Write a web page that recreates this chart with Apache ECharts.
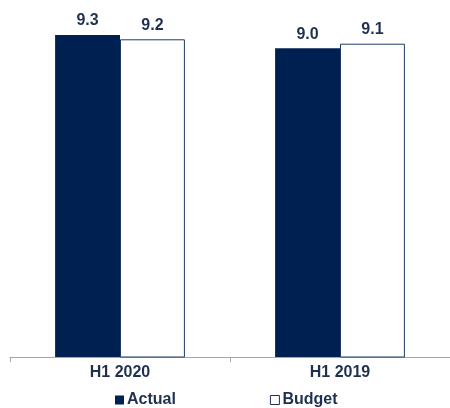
<!DOCTYPE html>
<html><head><meta charset="utf-8">
<script src="https://cdn.jsdelivr.net/npm/echarts@6/dist/echarts.min.js"></script>
<style>html,body{margin:0;padding:0;background:#fff}#c{width:450px;height:408px}</style>
</head><body><div id="c"></div>
<script>
const categories = ['H1 2020', 'H1 2019'];
const actual = [9.3, 9.0];
const budget = [9.2, 9.1];
const seriesNames = ['Actual', 'Budget'];

const navy = '#002052';
const txt = '#1f3050';
const chart = echarts.init(document.getElementById('c'));
const labelStyle = {show: true, position: 'top', distance: 6, color: txt, fontFamily: 'Liberation Sans, Arial', fontWeight: 'bold', fontSize: 16, formatter: p => p.value.toFixed(1)};
chart.setOption({
  animation: false,
  grid: {left: 10, right: 0, top: 4, bottom: 51},
  legend: {
    top: 392, left: 115, padding: 0, itemGap: 94, itemWidth: 9, itemHeight: 9,
    textStyle: {color: txt, fontFamily: 'Liberation Sans, Arial', fontWeight: 'bold', fontSize: 16, padding: [0,0,0,-2]},
    data: [{name: seriesNames[0], icon: 'rect'}, {name: seriesNames[1], icon: 'rect', itemStyle: {color: '#fff', borderColor: txt, borderWidth: 1}}]
  },
  xAxis: {
    type: 'category', data: categories,
    axisLine: {lineStyle: {color: '#a6a6a6', width: 1}},
    axisTick: {show: true, length: 5, lineStyle: {color: '#a6a6a6'}},
    axisLabel: {color: txt, fontFamily: 'Liberation Sans, Arial', fontWeight: 'bold', fontSize: 16, margin: 8}
  },
  yAxis: {type: 'value', min: 2, max: 10, show: false, splitLine: {show: false}},
  series: [
    {name: seriesNames[0], type: 'bar', data: actual, barWidth: '29.5%', barGap: '0%', itemStyle: {color: navy}, label: labelStyle},
    {name: seriesNames[1], type: 'bar', data: budget, barWidth: '29.5%', itemStyle: {color: '#fff', borderColor: '#1f3a66', borderWidth: 1}, label: labelStyle}
  ]
});
</script></body></html>
